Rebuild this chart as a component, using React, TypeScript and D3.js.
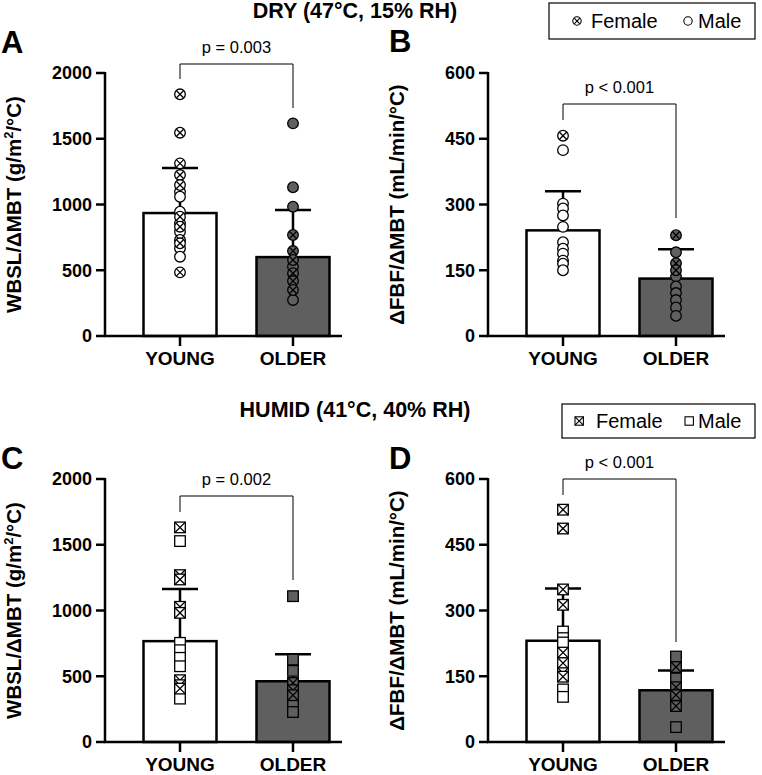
import React from "react";
import * as d3 from "d3";

const groups = ["YOUNG", "OLDER"];

// Panel A: WBSL/ΔMBT dry
const aYoungF = [1838, 1546, 1313, 1224, 1148, 907, 831, 730, 705, 484];
const aYoungM = [1097, 1059, 945, 857, 793, 667, 603];
const aOlderF = [768, 646, 578, 477, 418, 350];
const aOlderM = [1617, 1131, 983, 527, 274];
const aMeans = [935, 600];
const aSD = [1277, 958];

// Panel B: ΔFBF/ΔMBT dry
const bYoungF = [457];
const bYoungM = [424, 302, 291, 275, 249, 214, 199, 188, 172, 165, 150];
const bOlderF = [230, 166, 150];
const bOlderM = [191, 136, 113, 98, 82, 65, 46];
const bMeans = [241, 131];
const bSD = [330, 198];

// Panel C: WBSL/ΔMBT humid
const cYoungF = [1632, 1269, 1236, 1028, 982, 470, 432, 406];
const cYoungM = [1528, 754, 698, 640, 576, 330];
const cOlderF = [449, 394, 356];
const cOlderM = [1109, 627, 541, 279, 228];
const cMeans = [767, 462];
const cSD = [1163, 668];

// Panel D: ΔFBF/ΔMBT humid
const dYoungF = [530, 487, 348, 313, 204, 180, 157, 149];
const dYoungM = [252, 237, 227, 120, 103];
const dOlderF = [171, 125, 107, 82];
const dOlderM = [195, 145, 34];
const dMeans = [231, 118];
const dSD = [350, 163];

const wbslTicks = [0, 500, 1000, 1500, 2000];
const fbfTicks = [0, 150, 300, 450, 600];

const FONT = "'Liberation Sans', Arial, sans-serif";
const OLDER_FILL = "#5f5f5f";

type PanelProps = {
  axisX: number;
  top: number;
  bottom: number;
  max: number;
  ticks: number[];
  youngF: number[];
  youngM: number[];
  olderF: number[];
  olderM: number[];
  means: number[];
  sd: number[];
  shape: "circle" | "square";
  pText: string;
  bracketY: number;
  leftDrop: number;
  rightDrop: number;
  yLabel: React.ReactNode;
  letter: string;
  letterX: number;
  letterY: number;
};

function Marker({ x, y, shape, female, fill }: { x: number; y: number; shape: string; female: boolean; fill: string }) {
  const r = 5.3;
  const d = shape === "circle" ? r * 0.66 : r;
  return (
    <g>
      {shape === "circle" ? (
        <circle cx={x} cy={y} r={r} fill={fill} stroke="#000" strokeWidth={1.3} />
      ) : (
        <rect x={x - r} y={y - r} width={2 * r} height={2 * r} fill={fill} stroke="#000" strokeWidth={1.3} />
      )}
      {female && (
        <g stroke="#000" strokeWidth={1.3}>
          <line x1={x - d} y1={y - d} x2={x + d} y2={y + d} />
          <line x1={x - d} y1={y + d} x2={x + d} y2={y - d} />
        </g>
      )}
    </g>
  );
}

function Panel(p: PanelProps) {
  const y = d3.scaleLinear().domain([0, p.max]).range([p.bottom, p.top]);
  const x = d3.scalePoint<string>().domain(groups).range([p.axisX + 75, p.axisX + 188]);
  const barW = 73;
  const axisEnd = p.axisX + 237;
  const fills = ["#fff", OLDER_FILL];
  const pts = [
    { g: "YOUNG", f: p.youngF, m: p.youngM, fill: "#fff" },
    { g: "OLDER", f: p.olderF, m: p.olderM, fill: OLDER_FILL },
  ];
  const xl = x("YOUNG")!;
  const xr = x("OLDER")!;
  const midY = (p.top + p.bottom) / 2;
  return (
    <g>
      <text x={p.letterX} y={p.letterY} fontFamily={FONT} fontWeight="bold" fontSize={31}>
        {p.letter}
      </text>
      {groups.map((g, i) => (
        <rect
          key={g}
          x={x(g)! - barW / 2}
          y={y(p.means[i])}
          width={barW}
          height={p.bottom - y(p.means[i])}
          fill={fills[i]}
          stroke="#000"
          strokeWidth={2.5}
        />
      ))}
      {groups.map((g, i) => (
        <g key={g} stroke="#000" strokeWidth={2.5}>
          <line x1={x(g)!} x2={x(g)!} y1={y(p.means[i])} y2={y(p.sd[i])} />
          <line x1={x(g)! - 18} x2={x(g)! + 18} y1={y(p.sd[i])} y2={y(p.sd[i])} />
        </g>
      ))}
      {pts.map((s) => (
        <g key={s.g}>
          {s.m.map((v, j) => (
            <Marker key={"m" + j} x={x(s.g)!} y={y(v)} shape={p.shape} female={false} fill={s.fill} />
          ))}
          {s.f.map((v, j) => (
            <Marker key={"f" + j} x={x(s.g)!} y={y(v)} shape={p.shape} female={true} fill={s.fill} />
          ))}
        </g>
      ))}
      <line x1={p.axisX} x2={p.axisX} y1={p.top - 1} y2={p.bottom} stroke="#000" strokeWidth={2.5} />
      <line x1={p.axisX - 1.25} x2={axisEnd} y1={p.bottom} y2={p.bottom} stroke="#000" strokeWidth={2.5} />
      {p.ticks.map((t) => (
        <g key={t}>
          <line x1={p.axisX - 9} x2={p.axisX} y1={y(t)} y2={y(t)} stroke="#000" strokeWidth={2.5} />
          <text
            x={p.axisX - 13}
            y={y(t)}
            dy="0.36em"
            textAnchor="end"
            fontFamily={FONT}
            fontWeight="bold"
            fontSize={18}
          >
            {t}
          </text>
        </g>
      ))}
      {groups.map((g) => (
        <g key={g}>
          <line x1={x(g)!} x2={x(g)!} y1={p.bottom} y2={p.bottom + 10} stroke="#000" strokeWidth={2.5} />
          <text x={x(g)!} y={p.bottom + 29} textAnchor="middle" fontFamily={FONT} fontWeight="bold" fontSize={19}>
            {g}
          </text>
        </g>
      ))}
      <text
        transform={`translate(${p.axisX - 84},${midY}) rotate(-90)`}
        textAnchor="middle"
        fontFamily={FONT}
        fontWeight="bold"
        fontSize={20.5}
      >
        {p.yLabel}
      </text>
      <path
        d={`M${xl},${p.leftDrop} V${p.bracketY} H${xr} V${p.rightDrop}`}
        fill="none"
        stroke="#000"
        strokeWidth={1}
      />
      <text x={(xl + xr) / 2} y={p.bracketY - 11} textAnchor="middle" fontFamily={FONT} fontSize={16.5}>
        {p.pText}
      </text>
    </g>
  );
}

function Legend({ x0, x1, y0, y1, shape }: { x0: number; x1: number; y0: number; y1: number; shape: string }) {
  const cy = (y0 + y1) / 2;
  const sm = 4.2;
  return (
    <g>
      <rect x={x0} y={y0} width={x1 - x0} height={y1 - y0} fill="#fff" stroke="#000" strokeWidth={1.2} />
      {shape === "circle" ? (
        <g>
          <circle cx={577} cy={cy} r={sm} fill="#fff" stroke="#000" strokeWidth={1.1} />
          <line x1={574.2} y1={cy - 2.8} x2={579.8} y2={cy + 2.8} stroke="#000" strokeWidth={1.1} />
          <line x1={574.2} y1={cy + 2.8} x2={579.8} y2={cy - 2.8} stroke="#000" strokeWidth={1.1} />
          <circle cx={688} cy={cy} r={sm} fill="#fff" stroke="#000" strokeWidth={1.1} />
        </g>
      ) : (
        <g>
          <rect x={575} y={cy - sm} width={2 * sm} height={2 * sm} fill="#fff" stroke="#000" strokeWidth={1.1} />
          <line x1={575} y1={cy - sm} x2={575 + 2 * sm} y2={cy + sm} stroke="#000" strokeWidth={1.1} />
          <line x1={575} y1={cy + sm} x2={575 + 2 * sm} y2={cy - sm} stroke="#000" strokeWidth={1.1} />
          <rect x={685} y={cy - sm} width={2 * sm} height={2 * sm} fill="#fff" stroke="#000" strokeWidth={1.1} />
        </g>
      )}
      <text x={shape === "circle" ? 591 : 596} y={cy} dy="0.36em" fontFamily={FONT} fontSize={20}>
        Female
      </text>
      <text x={698} y={cy} dy="0.36em" fontFamily={FONT} fontSize={20}>
        Male
      </text>
    </g>
  );
}

const wbslLabel = (
  <>
    WBSL/ΔMBT (g/m
    <tspan fontSize={13} dy={-8}>
      2
    </tspan>
    <tspan dy={8}>/°C)</tspan>
  </>
);
const fbfLabel = <>ΔFBF/ΔMBT (mL/min/°C)</>;

export default function App() {
  return (
    <svg width={762} height={775} style={{ position: "absolute", left: 0, top: 0, background: "#fff" }}>
      <rect width={762} height={775} fill="#fff" />
      <text x={355} y={18} textAnchor="middle" fontFamily={FONT} fontWeight="bold" fontSize={21.5}>
        DRY (47°C, 15% RH)
      </text>
      <text x={355} y={417} textAnchor="middle" fontFamily={FONT} fontWeight="bold" fontSize={21.5}>
        HUMID (41°C, 40% RH)
      </text>
      <Legend x0={549} x1={755} y0={3} y1={39} shape="circle" />
      <Legend x0={562} x1={755} y0={404} y1={438} shape="square" />
      <Panel
        axisX={105}
        top={73}
        bottom={336}
        max={2000}
        ticks={wbslTicks}
        youngF={aYoungF}
        youngM={aYoungM}
        olderF={aOlderF}
        olderM={aOlderM}
        means={aMeans}
        sd={aSD}
        shape="circle"
        pText="p = 0.003"
        bracketY={64}
        leftDrop={79}
        rightDrop={108}
        yLabel={wbslLabel}
        letter="A"
        letterX={1}
        letterY={53}
      />
      <Panel
        axisX={488}
        top={73}
        bottom={336}
        max={600}
        ticks={fbfTicks}
        youngF={bYoungF}
        youngM={bYoungM}
        olderF={bOlderF}
        olderM={bOlderM}
        means={bMeans}
        sd={bSD}
        shape="circle"
        pText="p < 0.001"
        bracketY={104}
        leftDrop={120}
        rightDrop={218}
        yLabel={fbfLabel}
        letter="B"
        letterX={389}
        letterY={52}
      />
      <Panel
        axisX={105}
        top={479}
        bottom={742}
        max={2000}
        ticks={wbslTicks}
        youngF={cYoungF}
        youngM={cYoungM}
        olderF={cOlderF}
        olderM={cOlderM}
        means={cMeans}
        sd={cSD}
        shape="square"
        pText="p = 0.002"
        bracketY={496}
        leftDrop={512}
        rightDrop={580}
        yLabel={wbslLabel}
        letter="C"
        letterX={1}
        letterY={469}
      />
      <Panel
        axisX={488}
        top={479}
        bottom={742}
        max={600}
        ticks={fbfTicks}
        youngF={dYoungF}
        youngM={dYoungM}
        olderF={dOlderF}
        olderM={dOlderM}
        means={dMeans}
        sd={dSD}
        shape="square"
        pText="p < 0.001"
        bracketY={479}
        leftDrop={495}
        rightDrop={642}
        yLabel={fbfLabel}
        letter="D"
        letterX={389}
        letterY={469}
      />
    </svg>
  );
}
